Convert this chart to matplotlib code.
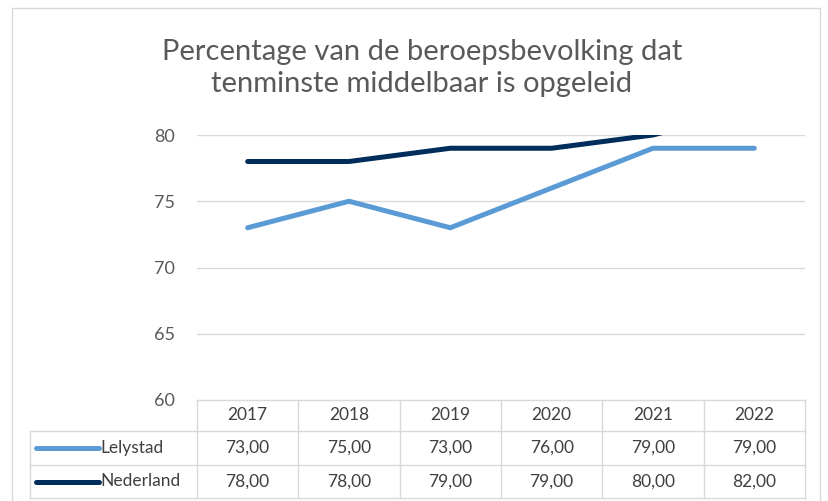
import matplotlib.pyplot as plt
from matplotlib.lines import Line2D
from matplotlib.patches import Rectangle

plt.rcParams['font.family'] = ['Lato', 'DejaVu Sans']

years = ['2017', '2018', '2019', '2020', '2021', '2022']
lelystad = [73, 75, 73, 76, 79, 79]
nederland = [78, 78, 79, 79, 80, 82]
series = [('Lelystad', lelystad, '#5b9bd5'), ('Nederland', nederland, '#002d5c')]

W, H = 829, 501
fig = plt.figure(figsize=(W / 100, H / 100), dpi=100)
# outer chart border
fig.add_artist(Rectangle((12 / W, -0.02), (820 - 12) / W, (H - 8) / H + 0.02,
                         transform=fig.transFigure, fill=False, ec='#d9d9d9', lw=1))

px_l, px_r, px_t, px_b = 197, 805, 135, 400
ax = fig.add_axes([px_l / W, 1 - px_b / H, (px_r - px_l) / W, (px_b - px_t) / H])
x = range(len(years))
for name, vals, col in series:
    ax.plot(x, vals, color=col, lw=3.6, solid_capstyle='round', solid_joinstyle='miter')
ax.set_xlim(-0.5, len(years) - 0.5)
ax.set_ylim(60, 80)
ax.set_yticks([60, 65, 70, 75, 80])
ax.tick_params(axis='y', length=0, labelsize=13, labelcolor='#595959', pad=16)
ax.set_xticks([])
for s in ax.spines.values():
    s.set_visible(False)
for v in [65, 70, 75, 80]:
    ax.axhline(v, color='#d9d9d9', lw=1, zorder=0)

fig.text(422 / W, 1 - 68 / H, 'Percentage van de beroepsbevolking dat\ntenminste middelbaar is opgeleid',
         ha='center', va='center', fontsize=21, color='#595959', linespacing=1.3)

# data table below the axis
def fx(p):
    return p / W

def fy(p):
    return 1 - p / H

gc = '#d9d9d9'
rows = [400, 431, 465, 498]
colw = (px_r - px_l) / len(years)
tab_l = 30
# horizontal lines
fig.add_artist(Line2D([fx(px_l), fx(px_r)], [fy(rows[0])] * 2, color=gc, lw=1))
for r in rows[1:]:
    fig.add_artist(Line2D([fx(tab_l), fx(px_r)], [fy(r)] * 2, color=gc, lw=1))
# vertical lines
for i in range(len(years) + 1):
    xx = px_l + i * colw
    fig.add_artist(Line2D([fx(xx)] * 2, [fy(rows[0]), fy(rows[-1])], color=gc, lw=1))
fig.add_artist(Line2D([fx(tab_l)] * 2, [fy(rows[1]), fy(rows[-1])], color=gc, lw=1))

tc = '#404040'
for i, yr in enumerate(years):
    fig.text(fx(px_l + (i + 0.5) * colw), fy((rows[0] + rows[1]) / 2), yr,
             ha='center', va='center', fontsize=12.5, color=tc)
for k, (name, vals, col) in enumerate(series):
    yc = fy((rows[k + 1] + rows[k + 2]) / 2)
    fig.add_artist(Line2D([fx(36), fx(99)], [yc, yc], color=col, lw=3.6, solid_capstyle='round'))
    fig.text(fx(100), yc, name, ha='left', va='center', fontsize=12.5, color=tc)
    for i, v in enumerate(vals):
        fig.text(fx(px_l + (i + 0.5) * colw), yc, f'{v:.2f}'.replace('.', ','),
                 ha='center', va='center', fontsize=12.5, color=tc)

fig.savefig('out.png', dpi=100)
